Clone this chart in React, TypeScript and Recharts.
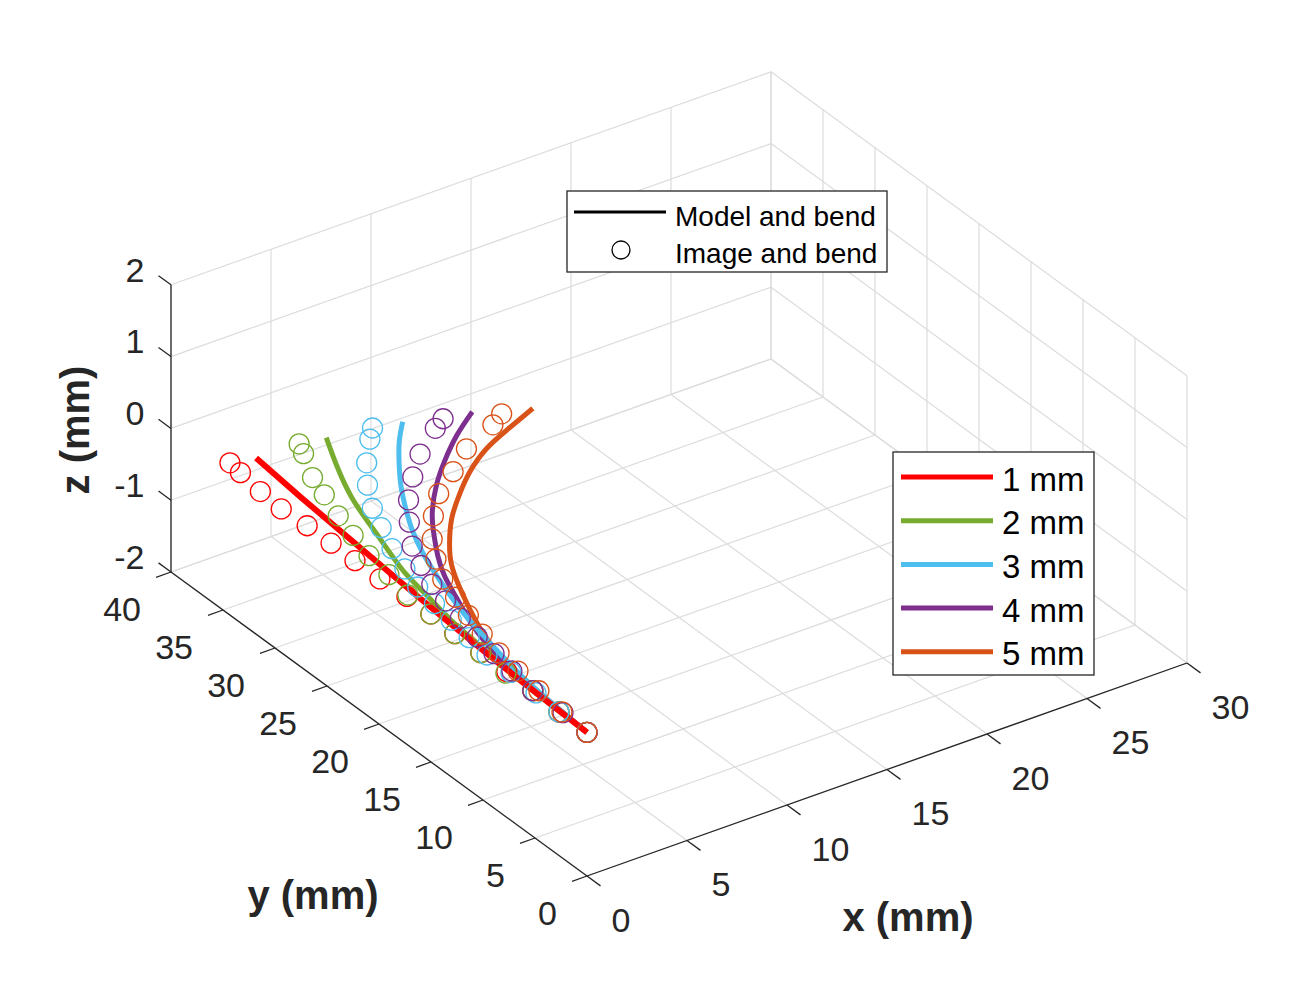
import React from 'react';
import { ComposedChart, Line, Scatter, XAxis, YAxis } from 'recharts';

const W = 1312;
const H = 984;

// Axis ticks (mm)
const xTicks = [0, 5, 10, 15, 20, 25, 30];
const yTicks = [0, 5, 10, 15, 20, 25, 30, 35, 40];
const zTicks = [-2, -1, 0, 1, 2];

const seriesNames = ['1 mm', '2 mm', '3 mm', '4 mm', '5 mm'];
const seriesColors = ['#FF0000', '#77AC30', '#4DBEEE', '#7E2F8E', '#D95319'];

// Model curves (x, y in mm, z = 0)
const model1X = [1.5, 1.2, 0.93, 0.66, 0.43, 0.17, 0];
const model1Y = [34.7, 29.8, 24.7, 19.3, 14.3, 7.3, 0];
const model2X = [4.8, 3.8, 2.9, 2.3, 1.7, 1.2, 0.9, 0.6, 0.4, 0.2, 0.06, 0];
const model2Y = [34.3, 31.3, 28.2, 25.4, 22.4, 19.7, 17.0, 14.3, 11.2, 8.0, 4.0, 0];
const model3X = [8.1, 7.1, 6.1, 5.1, 4.2, 3.4, 2.75, 2.2, 1.7, 1.25, 0.9, 0.55, 0.25, 0];
const model3Y = [33.3, 31.7, 29.8, 27.7, 25.5, 23.3, 21.1, 18.8, 16.4, 13.9, 11.3, 8.5, 5.2, 0];
const model4X = [10.9, 9.3, 7.7, 6.3, 4.9, 3.9, 3.1, 2.4, 1.8, 1.2, 0.7, 0.4, 0.2, 0];
const model4Y = [32.0, 30.4, 28.5, 26.6, 24.3, 22.2, 20.3, 18.3, 16.0, 13.6, 11.0, 8.2, 5.0, 0];
const model5X = [13.1, 11.4, 9.7, 8.0, 6.6, 5.3, 4.1, 3.2, 2.5, 1.9, 1.2, 0.7, 0.4, 0.2, 0];
const model5Y = [30.4, 29.4, 28.3, 26.7, 25.0, 23.2, 21.1, 19.2, 17.2, 15.2, 12.6, 10.1, 7.6, 4.4, 0];

// Image measurements (x, y in mm, z = 0)
const image1X = [0.4, 0.3, 0.1, 0.0, 0.1, 0.1, 0.1, 0.1, 0.2, 0.2, 0.1, 0.1, 0.1, 0.1, 0.0, 0];
const image1Y = [35.1, 33.9, 31.6, 29.4, 27.1, 24.8, 22.5, 20.1, 17.7, 15.4, 12.9, 10.4, 7.9, 5.4, 2.7, 0];
const image2X = [3.6, 3.3, 2.5, 2.1, 1.6, 1.2, 0.8, 0.6, 0.3, 0.2, 0.1, 0.1, 0.0, 0.1, 0.0, 0];
const image2Y = [34.6, 33.6, 31.2, 29.3, 27.0, 24.8, 22.5, 20.2, 17.8, 15.4, 12.9, 10.4, 7.8, 5.4, 2.7, 0];
const image3X = [6.8, 6.2, 5.0, 4.0, 3.1, 2.5, 1.9, 1.4, 1.0, 0.8, 0.6, 0.4, 0.2, 0.2, 0.1, 0.0, 0];
const image3Y = [33.7, 32.8, 30.8, 28.8, 26.6, 24.6, 22.4, 20.2, 18.2, 16.2, 14.2, 12.1, 10.0, 7.7, 5.1, 2.7, 0];
const image4X = [9.6, 8.9, 7.2, 5.9, 4.7, 3.7, 2.7, 2.1, 1.6, 1.3, 1.0, 0.7, 0.5, 0.3, 0.1, 0.1, 0];
const image4Y = [32.3, 31.7, 29.9, 28.1, 26.2, 24.2, 22.0, 20.0, 18.0, 16.1, 14.1, 11.9, 9.9, 7.8, 5.4, 2.5, 0];
const image5X = [11.8, 11.0, 9.0, 7.5, 6.0, 4.8, 3.7, 2.9, 2.2, 1.8, 1.4, 1.0, 0.7, 0.5, 0.3, 0.1, 0];
const image5Y = [30.9, 30.2, 28.9, 27.3, 25.8, 24.0, 22.0, 20.1, 18.1, 16.1, 14.1, 12.0, 9.8, 7.6, 5.2, 2.6, 0];

const modelXs = [model1X, model2X, model3X, model4X, model5X];
const modelYs = [model1Y, model2Y, model3Y, model4Y, model5Y];
const imageXs = [image1X, image2X, image3X, image4X, image5X];
const imageYs = [image1Y, image2Y, image3Y, image4Y, image5Y];

// 3D view projection (orthographic, MATLAB default view)
const proj = (x: number, y: number, z: number) => ({
  px: 587 + 20 * x - 10.4 * y,
  py: 876 - 7.1 * x - 7.6 * y - 71.8 * (z + 2),
});

const X0 = xTicks[0], X1 = xTicks[xTicks.length - 1];
const Y0 = yTicks[0], Y1 = yTicks[yTicks.length - 1];
const Z0 = zTicks[0], Z1 = zTicks[zTicks.length - 1];

const gridSegs: any[] = [];
xTicks.forEach((x) => {
  gridSegs.push([proj(x, Y0, Z0), proj(x, Y1, Z0)]);
  gridSegs.push([proj(x, Y1, Z0), proj(x, Y1, Z1)]);
});
yTicks.forEach((y) => {
  gridSegs.push([proj(X0, y, Z0), proj(X1, y, Z0)]);
  gridSegs.push([proj(X1, y, Z0), proj(X1, y, Z1)]);
});
zTicks.forEach((z) => {
  gridSegs.push([proj(X0, Y1, z), proj(X1, Y1, z)]);
  gridSegs.push([proj(X1, Y0, z), proj(X1, Y1, z)]);
});

const axisSegs: any[] = [
  [proj(X0, Y0, Z0), proj(X1, Y0, Z0)],
  [proj(X0, Y0, Z0), proj(X0, Y1, Z0)],
  [proj(X0, Y1, Z0), proj(X0, Y1, Z1)],
];
xTicks.forEach((x) => axisSegs.push([proj(x, Y0, Z0), proj(x, Y0 - 1.3, Z0)]));
yTicks.forEach((y) => axisSegs.push([proj(X0, y, Z0), proj(X0 - 0.75, y, Z0)]));
zTicks.forEach((z) => axisSegs.push([proj(X0, Y1, z), proj(X0, Y1 + 1.2, z)]));

const xLabelPts = xTicks.map((x) => ({ ...proj(x, Y0 - 1.3, Z0), label: String(x) }));
const yLabelPts = yTicks.map((y) => ({ ...proj(X0 - 0.75, y, Z0), label: String(y) }));
const zLabelPts = zTicks.map((z) => ({ ...proj(X0, Y1 + 1.2, z), label: String(z) }));

const modelPts = modelXs.map((xs, i) => xs.map((x, j) => proj(x, modelYs[i][j], 0)));
const imagePts = imageXs.map((xs, i) => xs.map((x, j) => proj(x, imageYs[i][j], 0)));

const FONT = "'Liberation Sans', Arial, Helvetica, sans-serif";
const AX = '#262626';

const labelShape = (anchor: 'start' | 'end', dx: number, dy: number) => (p: any) => (
  <text
    x={p.cx + dx}
    y={p.cy + dy}
    textAnchor={anchor}
    dominantBaseline="central"
    fontSize={34}
    fontFamily={FONT}
    fill={AX}
  >
    {p.payload.label}
  </text>
);

const circleShape = (color: string) => (p: any) => (
  <circle cx={p.cx} cy={p.cy} r={10} fill="none" stroke={color} strokeWidth={1.3} />
);

const lineOrder = [4, 3, 2, 1, 0];

export default function App() {
  return (
    <div style={{ position: 'absolute', left: 0, top: 0, width: W, height: H, background: '#fff' }}>
      <ComposedChart width={W} height={H} margin={{ top: 0, right: 0, bottom: 0, left: 0 }}>
        <XAxis type="number" dataKey="px" domain={[0, W]} allowDataOverflow hide />
        <YAxis type="number" dataKey="py" domain={[0, H]} reversed allowDataOverflow hide />
        {gridSegs.map((seg, i) => (
          <Line
            key={'g' + i}
            data={seg}
            dataKey="py"
            type="linear"
            stroke="#dcdcdc"
            strokeWidth={1.2}
            dot={false}
            activeDot={false}
            legendType="none"
            isAnimationActive={false}
          />
        ))}
        {axisSegs.map((seg, i) => (
          <Line
            key={'a' + i}
            data={seg}
            dataKey="py"
            type="linear"
            stroke={AX}
            strokeWidth={1.3}
            dot={false}
            activeDot={false}
            legendType="none"
            isAnimationActive={false}
          />
        ))}
        {lineOrder.map((i) => (
          <Line
            key={'m' + i}
            data={modelPts[i]}
            dataKey="py"
            type="natural"
            stroke={seriesColors[i]}
            strokeWidth={i === 0 ? 6 : 5}
            dot={false}
            activeDot={false}
            legendType="none"
            isAnimationActive={false}
          />
        ))}
        {[0, 1, 2, 3, 4].map((i) => (
          <Scatter
            key={'s' + i}
            data={imagePts[i]}
            dataKey="py"
            shape={circleShape(seriesColors[i])}
            legendType="none"
            isAnimationActive={false}
          />
        ))}
        <Scatter data={xLabelPts} dataKey="py" shape={labelShape('start', 11, 34)} isAnimationActive={false} />
        <Scatter data={yLabelPts} dataKey="py" shape={labelShape('end', -15, 32)} isAnimationActive={false} />
        <Scatter data={zLabelPts} dataKey="py" shape={labelShape('end', -14, -6)} isAnimationActive={false} />
      </ComposedChart>

      {/* axis titles */}
      <div style={{ position: 'absolute', left: 908, top: 917, transform: 'translate(-50%,-50%)', font: `bold 40px ${FONT}`, color: AX, whiteSpace: 'nowrap' }}>x (mm)</div>
      <div style={{ position: 'absolute', left: 313, top: 895, transform: 'translate(-50%,-50%)', font: `bold 40px ${FONT}`, color: AX, whiteSpace: 'nowrap' }}>y (mm)</div>
      <div style={{ position: 'absolute', left: 75, top: 430, transform: 'translate(-50%,-50%) rotate(-90deg)', font: `bold 40px ${FONT}`, color: AX, whiteSpace: 'nowrap' }}>z (mm)</div>

      {/* legends */}
      <svg width={W} height={H} style={{ position: 'absolute', left: 0, top: 0, pointerEvents: 'none' }}>
        <rect x={567} y={191} width={320} height={81} fill="#fff" stroke={AX} strokeWidth={1.3} />
        <line x1={574} y1={212} x2={666} y2={212} stroke="#000" strokeWidth={3} />
        <circle cx={621} cy={250} r={9} fill="none" stroke="#000" strokeWidth={1.3} />
        <text x={675} y={216} dominantBaseline="central" fontSize={28} fontFamily={FONT} fill="#000">Model and bend</text>
        <text x={675} y={253} dominantBaseline="central" fontSize={28} fontFamily={FONT} fill="#000">Image and bend</text>

        <rect x={893} y={452} width={201} height={223} fill="#fff" stroke={AX} strokeWidth={1.3} />
        {seriesNames.map((n, i) => (
          <g key={n}>
            <line x1={901} y1={477 + i * 43.7} x2={993} y2={477 + i * 43.7} stroke={seriesColors[i]} strokeWidth={5} />
            <text x={1002} y={479 + i * 43.7} dominantBaseline="central" fontSize={33} fontFamily={FONT} fill="#000">{n}</text>
          </g>
        ))}
      </svg>
    </div>
  );
}
